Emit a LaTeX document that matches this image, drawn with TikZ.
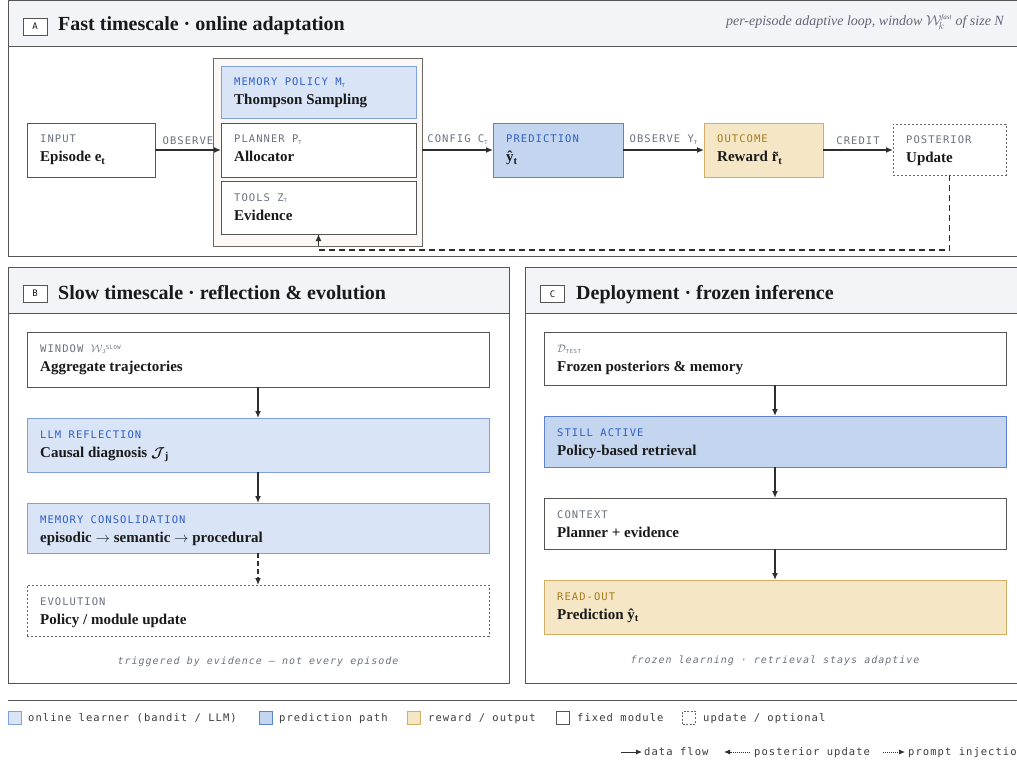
\documentclass[tikz,border=0pt]{standalone}
\usepackage{fontspec}
\setmainfont{Liberation Serif}
\newfontfamily\monof[LetterSpace=10]{DejaVu Sans Mono}
\usepackage{bm}
\usetikzlibrary{arrows.meta}
\definecolor{cBorder}{HTML}{555555}
\definecolor{cHdr}{HTML}{F3F4F8}
\definecolor{cLBlue}{HTML}{D9E4F7}
\definecolor{cLBlueB}{HTML}{7FA0DC}
\definecolor{cSBlue}{HTML}{C3D5EF}
\definecolor{cSBlueB}{HTML}{5A82D0}
\definecolor{cGold}{HTML}{F5E7C5}
\definecolor{cGoldB}{HTML}{D2AD68}
\definecolor{cCont}{HTML}{FCF8F5}
\definecolor{cContB}{HTML}{6E6660}
\definecolor{cDash}{HTML}{666666}
\definecolor{cGray}{HTML}{6B7280}
\definecolor{cBlueT}{HTML}{2F5FC4}
\definecolor{cGoldT}{HTML}{A67C1F}
\definecolor{cText}{HTML}{1A1A1A}
\definecolor{cArrow}{HTML}{2E2E2E}
\newcommand\lblfont{\fontsize{10.5}{12}\selectfont\monof}
\newcommand\capfont{\fontsize{10}{12}\selectfont\monof\itshape}
\newcommand\ls[1]{\raisebox{-1.8pt}{\fontsize{5.5}{6}\selectfont #1}}
\newcommand\us[1]{\raisebox{3pt}{\fontsize{5.5}{6}\selectfont #1}}
\newcommand\pbox[9]{%
 \node[#2, minimum width=#5pt, minimum height=#6pt, anchor=north west] (#1) at (#3,#4) {};
 \node[#7, anchor=base west] (#1-l) at ([xshift=13pt,yshift=-20pt]#1.north west) {#8};
 \node[main, anchor=base west] (#1-t) at ([xshift=13pt,yshift=-39pt]#1.north west) {#9};
}
\tikzset{
 box/.style={draw=cBorder, line width=0.9pt, fill=white, inner sep=0pt, outer sep=0pt},
 lblue/.style={box, fill=cLBlue, draw=cLBlueB},
 sblue/.style={box, fill=cSBlue, draw=cSBlueB},
 goldbox/.style={box, fill=cGold, draw=cGoldB},
 dbox/.style={box, draw=cDash, dash pattern=on 2.2pt off 1.8pt},
 cont/.style={box, fill=cCont, draw=cContB},
 panel/.style={draw=cBorder, line width=1pt},
 lg/.style={font=\lblfont, text=cGray, inner sep=0pt},
 lb/.style={lg, text=cBlueT},
 lo/.style={lg, text=cGoldT},
 main/.style={font=\fontsize{15}{18}\selectfont\bfseries, text=cText, inner sep=0pt},
 ttl/.style={font=\fontsize{20}{24}\selectfont\bfseries, text=cText, inner sep=0pt},
 badge/.style={draw=cBorder, line width=0.8pt, fill=white, minimum width=24pt, minimum height=17pt, inner sep=0pt, font=\fontsize{9}{10}\selectfont\monof, text=cText},
 flow/.style={draw=cArrow, line width=1.5pt, -{Latex[length=7pt,width=6pt]}},
 fb/.style={draw=cArrow, line width=1.4pt, dash pattern=on 6pt off 4pt, -{Latex[length=7pt,width=6pt]}},
 eb/.style={lg, above=5pt},
 captxt/.style={font=\capfont, text=cGray, inner sep=0pt},
 legsq/.style={draw=cBorder, line width=0.8pt, fill=white, minimum width=13pt, minimum height=13pt, inner sep=0pt},
 legt/.style={font=\lblfont, text=cText!85, inner sep=0pt, anchor=base west},
 thinarr/.style={draw=cArrow, line width=0.8pt, -{Latex[length=6pt,width=5pt]}},
}
\begin{document}
\begin{tikzpicture}[x=1pt,y=-1pt]
\clip (0,0) rectangle (1017,762);
\fill[white] (0,0) rectangle (1017,762);
% ---------- Panel A ----------
\fill[cHdr] (8,1) rectangle (1030,47);
\draw[panel] (8,1) rectangle (1030,256);
\draw[panel] (8,47) -- (1030,47);
\node[badge] (badgeA) at (35,26.5) {A};
\node[ttl, anchor=base west] (titleA) at (58,31) {Fast timescale · online adaptation};
\node[font=\fontsize{14}{16}\selectfont\itshape, text=cGray!90!black, inner sep=0pt, anchor=base east] (subA) at (1004,26) {per-episode adaptive loop, window $\mathcal{W}_{\!k}^{\scriptscriptstyle\mathit{fast}}$\ of size N};

\pbox{input}{box}{27}{123}{128}{54}{lg}{INPUT}{Episode e\textsubscript{t}}
\node[cont, minimum width=209pt, minimum height=188pt, anchor=north west] (container) at (213,58) {};
\pbox{mem}{lblue}{221}{66}{195}{52}{lb}{MEMORY POLICY M\ls{T}}{Thompson Sampling}
\pbox{planner}{box}{221}{123}{195}{54}{lg}{PLANNER P\ls{T}}{Allocator}
\pbox{tools}{box}{221}{181}{195}{53}{lg}{TOOLS Z\ls{T}}{Evidence}
\pbox{pred}{sblue}{493}{123}{130}{54}{lb}{PREDICTION}{ŷ\textsubscript{t}}
\pbox{outc}{goldbox}{704}{123}{119}{54}{lo}{OUTCOME}{Reward \~{r}\textsubscript{t}}
\pbox{post}{dbox}{893}{124}{113}{51}{lg}{POSTERIOR}{Update}

\draw[flow] (input.east) -- node[eb] (eObs) {OBSERVE} (planner.west);
\draw[flow] (container.east |- planner.east) -- node[eb] (eCfg) {CONFIG C\ls{T}} (pred.west);
\draw[flow] (pred.east) -- node[eb] (eObsY) {OBSERVE Y\ls{T}} (outc.west);
\draw[flow] (outc.east) -- node[eb] (eCred) {CREDIT} (post.west |- outc.east);
\coordinate (fbc) at ([yshift=-16pt]tools.south);
\draw[fb] (post.south) |- (fbc) -- (tools.south);

% ---------- Panel B ----------
\fill[cHdr] (8,267) rectangle (509,313);
\draw[panel] (8,267) rectangle (509,683);
\draw[panel] (8,313) -- (509,313);
\node[badge] (badgeB) at (35,293.5) {B};
\node[ttl, anchor=base west] (titleB) at (58,299) {Slow timescale · reflection \& evolution};
\pbox{win}{box}{27}{332}{462}{55}{lg}{WINDOW $\mathcal{W}$\ls{J}\us{SLOW}}{Aggregate trajectories}
\pbox{llm}{lblue}{27}{418}{462}{54}{lb}{LLM REFLECTION}{Causal diagnosis $\bm{\mathcal{J}}$\textsubscript{j}}
\pbox{cons}{lblue}{27}{503}{462}{50}{lb}{MEMORY CONSOLIDATION}{episodic $\rightarrow$ semantic $\rightarrow$ procedural}
\pbox{evo}{dbox}{27}{585}{462}{51}{lg}{EVOLUTION}{Policy / module update}
\draw[flow] (win.south) -- (llm.north);
\draw[flow] (llm.south) -- (cons.north);
\draw[flow, dash pattern=on 5pt off 3pt] (cons.south) -- (evo.north);
\node[captxt, anchor=base] (capB) at (258,664) {triggered by evidence — not every episode};

% ---------- Panel C ----------
\fill[cHdr] (525,267) rectangle (1030,313);
\draw[panel] (525,267) rectangle (1030,683);
\draw[panel] (525,313) -- (1030,313);
\node[badge] (badgeC) at (552.5,294) {C};
\node[ttl, anchor=base west] (titleC) at (576,299) {Deployment · frozen inference};
\pbox{dtest}{box}{544}{332}{462}{53}{lg}{$\mathcal{D}$\ls{TEST}}{Frozen posteriors \& memory}
\pbox{still}{sblue}{544}{416}{462}{51}{lb}{STILL ACTIVE}{Policy-based retrieval}
\pbox{ctx}{box}{544}{498}{462}{51}{lg}{CONTEXT}{Planner + evidence}
\pbox{read}{goldbox}{544}{580}{462}{54}{lo}{READ-OUT}{Prediction ŷ\textsubscript{t}}
\draw[flow] (dtest.south) -- (still.north);
\draw[flow] (still.south) -- (ctx.north);
\draw[flow] (ctx.south) -- (read.north);
\node[captxt, anchor=base] (capC) at (775,663) {frozen learning · retrieval stays adaptive};

% ---------- Legend ----------
\draw[draw=cBorder, line width=1pt] (8,700) -- (1030,700);
\node[legsq, fill=cLBlue, draw=cLBlueB] (lq1) at (14.5,717.5) {};
\node[legt] (lt1) at (28,721) {online learner (bandit / LLM)};
\node[legsq, fill=cSBlue, draw=cSBlueB] (lq2) at (266,717.5) {};
\node[legt] (lt2) at (279,721) {prediction path};
\node[legsq, fill=cGold, draw=cGoldB] (lq3) at (414,717.5) {};
\node[legt] (lt3) at (428,721) {reward / output};
\node[legsq] (lq4) at (563,717.5) {};
\node[legt] (lt4) at (577,721) {fixed module};
\node[legsq, draw=cDash, dash pattern=on 2pt off 1.6pt] (lq5) at (689,717.5) {};
\node[legt] (lt5) at (703,721) {update / optional};

\coordinate (d1s) at (621,752); \coordinate (d1e) at (642,752);
\draw[thinarr] (d1s) -- (d1e);
\node[legt] (dt1) at (644,755) {data flow};
\coordinate (d2s) at (750,752); \coordinate (d2e) at (724,752);
\draw[thinarr, dash pattern=on 1pt off 1pt] (d2s) -- (d2e);
\node[legt] (dt2) at (754,755) {posterior update};
\coordinate (d3s) at (883,752); \coordinate (d3e) at (905,752);
\draw[thinarr, dash pattern=on 1pt off 1pt] (d3s) -- (d3e);
\node[legt] (dt3) at (908,755) {prompt injection};
\end{tikzpicture}
\end{document}
